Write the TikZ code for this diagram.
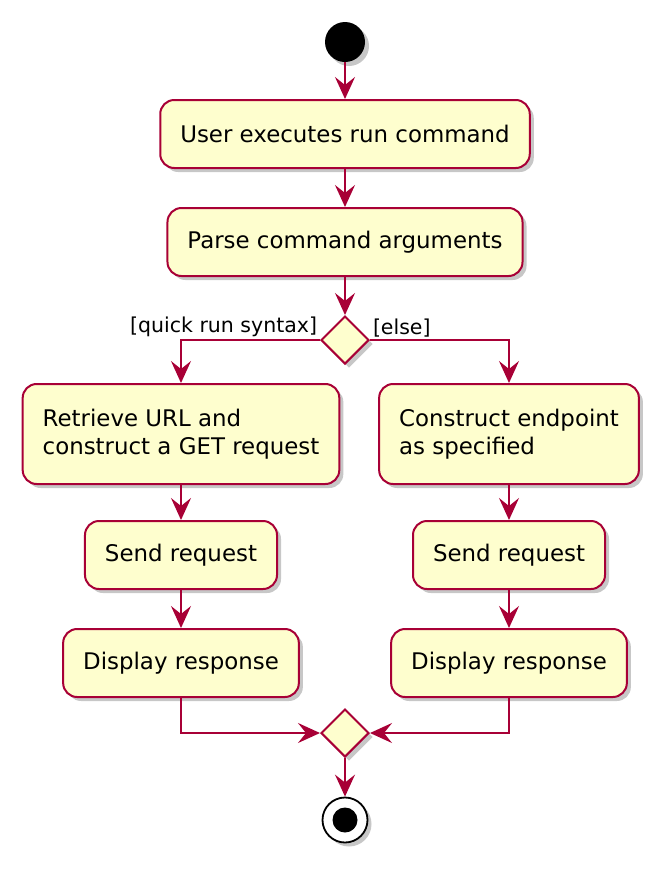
\documentclass[tikz,border=0pt]{standalone}
\usepackage{fontspec}
\setmainfont{DejaVu Sans}
\usepackage{xcolor}
\usetikzlibrary{positioning,arrows.meta,shapes.geometric,shadows}

\definecolor{umlred}{HTML}{A80036}
\definecolor{umlfill}{HTML}{FEFECE}

\begin{document}
\begin{tikzpicture}[x=1pt, y=-1pt,
    shade/.style={drop shadow={shadow xshift=4pt, shadow yshift=-4pt, fill=black, opacity=0.22}},
    action/.style={rectangle, rounded corners=14pt, draw=umlred, line width=2pt, fill=umlfill,
        shade, minimum height=68pt, inner xsep=20pt, inner ysep=10pt, align=left,
        font=\fontsize{22.9}{28}\selectfont},
    branch/.style={diamond, draw=umlred, line width=2pt, fill=umlfill, shade,
        minimum size=48pt, inner sep=0pt},
    guard/.style={font=\fontsize{20.5}{24}\selectfont, inner sep=2pt},
    flow/.style={draw=umlred, line width=2pt, -{Stealth[length=22pt, width=20pt, inset=8pt, fill=umlred]}}]

    \useasboundingbox (0,0) rectangle (670,873);

    
    \node[circle, fill=black, minimum size=40pt, inner sep=0pt, shade] (start) at (345,42) {};
    \node[action] (exec) at (345,134) {User executes run command};
    \node[action] (parse) at (345,242) {Parse command arguments};
    \node[branch] (split) at (345,340) {};

    
    \node[action, minimum height=100pt] (getreq) at (181,434) {Retrieve URL and\\construct a GET request};
    \node[action] (sendl) at (181,555) {Send request};
    \node[action] (showl) at (181,663) {Display response};

    
    \node[action, minimum height=100pt] (endpt) at (509,434) {Construct endpoint\\as specified};
    \node[action] (sendr) at (509,555) {Send request};
    \node[action] (showr) at (509,663) {Display response};

    
    \node[branch] (merge) at (345,733) {};
    \node[circle, draw=black, line width=1.8pt, fill=white, minimum size=45pt, inner sep=0pt, shade,
        path picture={\fill[black] (path picture bounding box.center) circle (12.5pt);}] (stop) at (345,820) {};

    
    \draw[flow] (start) -- (exec);
    \draw[flow] (exec) -- (parse);
    \draw[flow] (parse) -- (split);

    \draw[flow] (split.west) -| node[guard, pos=0, anchor=south east] {[quick run syntax]} (getreq);
    \draw[flow] (split.east) -| node[guard, pos=0, anchor=south west] {[else]} (endpt);

    \draw[flow] (getreq) -- (sendl);
    \draw[flow] (sendl) -- (showl);
    \draw[flow] (endpt) -- (sendr);
    \draw[flow] (sendr) -- (showr);

    \draw[flow] (showl.south) |- (merge.west);
    \draw[flow] (showr.south) |- (merge.east);
    \draw[flow] (merge) -- (stop);

\end{tikzpicture}
\end{document}
